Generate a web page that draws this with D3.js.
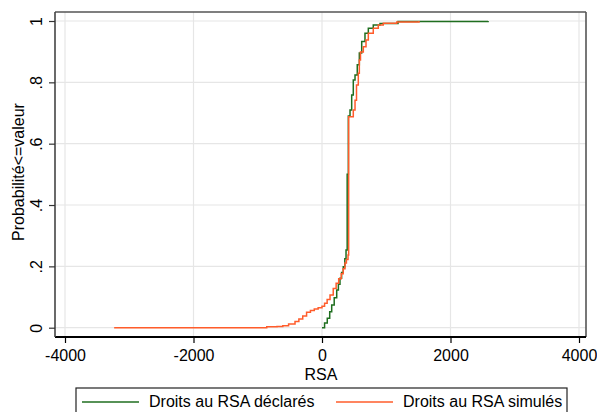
<!DOCTYPE html>
<html>
<head>
<meta charset="utf-8">
<script src="https://cdn.jsdelivr.net/npm/d3@7"></script>
<style>
  body { margin: 0; background: #fff; }
  text { font-family: "Liberation Sans", Arial, sans-serif; fill: #000; }
</style>
</head>
<body>
<div id="chart"></div>
<script>
// Empirical CDF of declared RSA rights (value, cumulative probability)
const declaredRsa = [0, 40, 82, 120, 151, 190, 229, 255, 280, 305, 331, 355, 374, 392, 410, 436, 462, 487, 514, 549, 581, 618, 669, 721, 798, 903, 1183, 2585];
const declaredCdf = [0, 0.015, 0.031, 0.052, 0.074, 0.098, 0.123, 0.142, 0.161, 0.180, 0.199, 0.225, 0.253, 0.50, 0.69, 0.71, 0.759, 0.808, 0.824, 0.857, 0.896, 0.933, 0.960, 0.976, 0.987, 0.992, 0.998, 1.0];

// Empirical CDF of simulated RSA rights
const simulatedRsa = [-3235, -860, -700, -610, -520, -420, -360, -300, -240, -180, -120, -60, 0, 40, 80, 125, 175, 220, 260, 300, 330, 358, 380, 405, 415, 487, 514, 537, 565, 581, 599, 643, 685, 721, 798, 876, 954, 1163, 1510];
const simulatedCdf = [0, 0.003, 0.004, 0.006, 0.012, 0.020, 0.028, 0.038, 0.050, 0.056, 0.061, 0.065, 0.070, 0.080, 0.092, 0.107, 0.128, 0.145, 0.160, 0.176, 0.192, 0.211, 0.222, 0.237, 0.688, 0.710, 0.742, 0.791, 0.830, 0.873, 0.899, 0.916, 0.938, 0.960, 0.976, 0.987, 0.993, 0.997, 1.0];

const xTicks = [-4000, -2000, 0, 2000, 4000];
const yTicks = [0, 0.2, 0.4, 0.6, 0.8, 1];

const legendLabels = ["Droits au RSA déclarés", "Droits au RSA simulés"];
const colors = ["#1f6e1f", "#ff5c2b"];

const width = 597, height = 412;
const frame = { left: 55, right: 586, top: 12, bottom: 337 };

const svg = d3.select("#chart").append("svg")
    .attr("width", width)
    .attr("height", height);

const x = d3.scaleLinear().domain([-4000, 4000]).range([65, 579]);
const y = d3.scaleLinear().domain([0, 1]).range([327.7, 21]);

// gridlines
svg.append("g").selectAll("line.vgrid")
    .data(xTicks).join("line")
    .attr("x1", d => x(d)).attr("x2", d => x(d))
    .attr("y1", frame.top).attr("y2", frame.bottom)
    .attr("stroke", "#e6e6e6").attr("stroke-width", 1.2);
svg.append("g").selectAll("line.hgrid")
    .data(yTicks).join("line")
    .attr("x1", frame.left).attr("x2", frame.right)
    .attr("y1", d => y(d)).attr("y2", d => y(d))
    .attr("stroke", "#e6e6e6").attr("stroke-width", 1.2);

// curves
const line = d3.line()
    .x(d => x(d[0]))
    .y(d => y(d[1]))
    .curve(d3.curveStepAfter);

const series = [
    d3.zip(declaredRsa, declaredCdf),
    d3.zip(simulatedRsa, simulatedCdf)
];

svg.append("g").selectAll("path")
    .data(series).join("path")
    .attr("d", line)
    .attr("fill", "none")
    .attr("stroke", (d, i) => colors[i])
    .attr("stroke-width", 1.5);

// plot frame
svg.append("line")
    .attr("x1", frame.left).attr("x2", frame.right)
    .attr("y1", frame.top).attr("y2", frame.top)
    .attr("stroke", "#555").attr("stroke-width", 1.6);
svg.append("line")
    .attr("x1", frame.right).attr("x2", frame.right)
    .attr("y1", frame.top).attr("y2", frame.bottom)
    .attr("stroke", "#555").attr("stroke-width", 1.6);

// axes (Stata uses a plain hyphen for negatives)
const xAxis = d3.axisBottom(x)
    .tickValues(xTicks)
    .tickSize(6)
    .tickSizeOuter(0)
    .tickFormat(d => String(d));

const xAxisG = svg.append("g")
    .attr("transform", `translate(0,${frame.bottom})`)
    .call(xAxis);
xAxisG.select(".domain")
    .attr("d", `M${frame.left},0H${frame.right}`)
    .attr("stroke", "#000").attr("stroke-width", 2);
xAxisG.selectAll(".tick line").attr("stroke", "#000").attr("stroke-width", 1.2);
xAxisG.selectAll(".tick text")
    .attr("font-size", "16px")
    .attr("font-family", "Liberation Sans, Arial, sans-serif")
    .attr("dy", null)
    .attr("y", 24);

const stataFmt = d => d === 0 ? "0" : d === 1 ? "1" : d3.format(".1f")(d).replace(/^0/, "");

const yAxis = d3.axisLeft(y)
    .tickValues(yTicks)
    .tickSize(6)
    .tickSizeOuter(0)
    .tickFormat(stataFmt);

const yAxisG = svg.append("g")
    .attr("transform", `translate(${frame.left},0)`)
    .call(yAxis);
yAxisG.select(".domain")
    .attr("d", `M0,${frame.top}V${frame.bottom}`)
    .attr("stroke", "#444").attr("stroke-width", 1.6);
yAxisG.selectAll(".tick line").attr("stroke", "#333").attr("stroke-width", 1.2);
yAxisG.selectAll(".tick text")
    .attr("font-size", "16px")
    .attr("font-family", "Liberation Sans, Arial, sans-serif")
    .attr("x", null).attr("dy", null)
    .attr("text-anchor", "middle")
    .attr("transform", "translate(-13,0) rotate(-90)");

// axis titles
svg.append("text")
    .attr("x", 321).attr("y", 380)
    .attr("text-anchor", "middle")
    .attr("font-size", "16px")
    .text("RSA");

svg.append("text")
    .attr("transform", "translate(24,172) rotate(-90)")
    .attr("text-anchor", "middle")
    .attr("font-size", "16px")
    .text("Probabilité<=valeur");

// legend
const legend = svg.append("g");
legend.append("rect")
    .attr("x", 76).attr("y", 388)
    .attr("width", 491).attr("height", 40)
    .attr("fill", "#fff")
    .attr("stroke", "#222").attr("stroke-width", 1.2);

const legendX = [82, 336];
const items = legend.selectAll("g.item")
    .data(legendLabels).join("g")
    .attr("transform", (d, i) => `translate(${legendX[i]},402)`);
items.append("line")
    .attr("x1", 0).attr("x2", 57)
    .attr("stroke", (d, i) => colors[i])
    .attr("stroke-width", 1.5);
items.append("text")
    .attr("x", 67).attr("y", 5)
    .attr("font-size", "16px")
    .text(d => d);
</script>
</body>
</html>
